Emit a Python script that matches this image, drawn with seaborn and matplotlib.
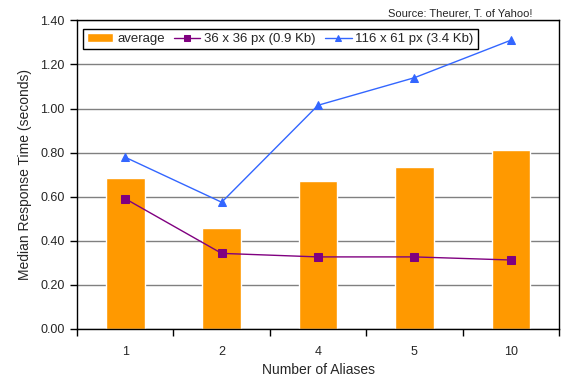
from matplotlib import pyplot as plt
from matplotlib.ticker import FormatStrFormatter, FixedLocator
import pandas as pd
import seaborn as sns
import numpy as np

# values
aliases = ["1", "2", "4", "5", "10"]
average = [0.685, 0.458, 0.671, 0.735, 0.812]
small_img = [0.591, 0.343, 0.327, 0.327, 0.313]   # 36 x 36 px (0.9 Kb)
large_img = [0.779, 0.575, 1.015, 1.140, 1.310]   # 116 x 61 px (3.4 Kb)

df = pd.DataFrame({"aliases": aliases, "average": average,
                   "small": small_img, "large": large_img})

sns.set_style("white")
plt.rcParams['font.family'] = ['Liberation Sans', 'DejaVu Sans']

fig, ax = plt.subplots(figsize=(5.71, 3.85), dpi=100)
fig.subplots_adjust(left=0.135, right=0.979, top=0.947, bottom=0.1455)

sns.barplot(data=df, x="aliases", y="average", color="#FF9900", saturation=1,
            width=0.4, label="average", ax=ax, zorder=2)
sns.pointplot(data=df, x="aliases", y="small", color="#800080", markers="s",
              markersize=6, linewidth=1, label="36 x 36 px (0.9 Kb)", ax=ax)
sns.pointplot(data=df, x="aliases", y="large", color="#3366FF", markers="^",
              markersize=6, linewidth=1, label="116 x 61 px (3.4 Kb)", ax=ax)

ax.set_ylim(0, 1.4)
ax.set_xlim(-0.5, 4.5)
ax.set_yticks(np.arange(0, 1.41, 0.2))
ax.yaxis.set_major_formatter(FormatStrFormatter("%.2f"))
ax.yaxis.grid(True, color="#808080", linewidth=1)
ax.set_axisbelow(True)

ax.xaxis.set_minor_locator(FixedLocator(np.arange(-0.5, 4.6, 1)))
ax.tick_params(axis="x", which="major", length=0, pad=12, labelsize=9)
ax.tick_params(axis="x", which="minor", length=5, width=1, color="black",
               direction="out", bottom=True)
ax.tick_params(axis="y", length=5, width=1, color="black", direction="out",
               left=True, labelsize=9, pad=4)

for s in ax.spines.values():
    s.set_color("black")
    s.set_linewidth(1)

ax.set_xlabel("Number of Aliases", fontsize=10, labelpad=4)
ax.set_ylabel("Median Response Time (seconds)", fontsize=10, labelpad=6)

# bars first in the legend, like the original
handles, labels = ax.get_legend_handles_labels()
order = [labels.index("average"), labels.index("36 x 36 px (0.9 Kb)"),
         labels.index("116 x 61 px (3.4 Kb)")]
leg = ax.legend([handles[i] for i in order], [labels[i] for i in order],
                loc="upper left", bbox_to_anchor=(0.012, 0.972), ncol=3,
                fontsize=9.5, frameon=True, fancybox=False, framealpha=1,
                edgecolor="black", borderaxespad=0, handlelength=2.0,
                handletextpad=0.3, columnspacing=0.7, borderpad=0.3,
                markerscale=0.8)
leg.get_frame().set_linewidth(1)

fig.text(0.933, 0.966, "Source: Theurer, T. of Yahoo!", fontsize=8,
         ha="right", va="center")

plt.savefig("out.png", dpi=100)
